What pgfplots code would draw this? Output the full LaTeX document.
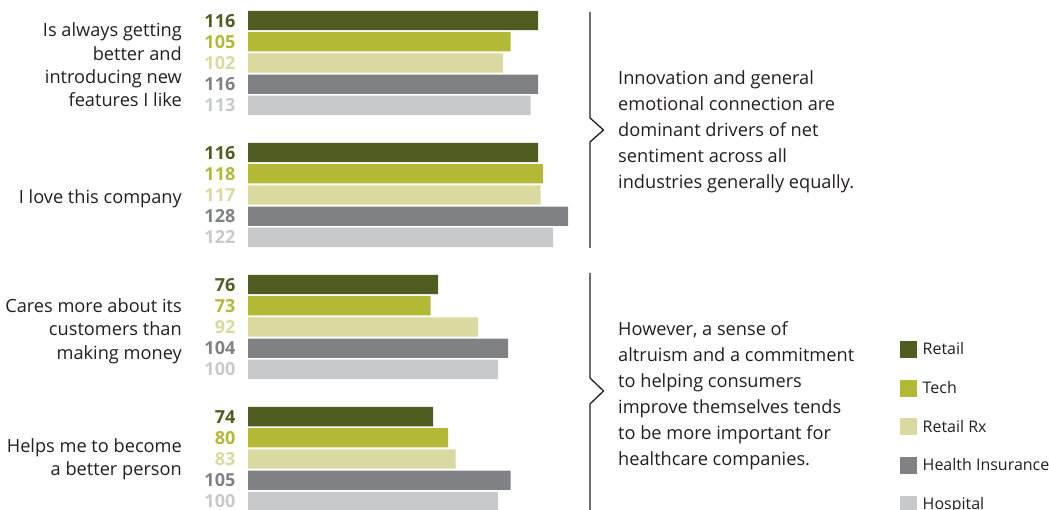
\documentclass[border=0pt]{standalone}
\usepackage{pgfplots}
\pgfplotsset{compat=1.18}
\usepackage{pgfplotstable}
\usepackage{fontspec}
\setmainfont{Open Sans}

\definecolor{retail}{HTML}{4F5D21}
\definecolor{tech}{HTML}{B3B835}
\definecolor{retailrx}{HTML}{D9D9A0}
\definecolor{healthins}{HTML}{808184}
\definecolor{hospital}{HTML}{C8C9CB}
\definecolor{txt}{HTML}{231F20}

% y = bar centre (px from top), v = index value
\pgfplotstableread{
y v
20.6 116
152.6 116
284.6 76
416.6 74
}\retail
\pgfplotstableread{
y v
41.8 105
173.8 118
305.8 73
437.8 80
}\tech
\pgfplotstableread{
y v
63.0 102
195.0 117
327.0 92
459.0 83
}\retailrx
\pgfplotstableread{
y v
84.2 116
216.2 128
348.2 104
480.2 105
}\healthins
\pgfplotstableread{
y v
105.4 113
237.4 122
369.4 100
501.4 100
}\hospital

\pgfplotsset{
  bars/.style={xbar, bar width=19.3, bar shift=0pt, draw=none, fill=#1},
  vals/.style={forget plot, draw=none, mark=none, nodes near coords,
    point meta=explicit,
    nodes near coords={\pgfmathprintnumber[assume math mode=true]{\pgfplotspointmeta}},
    every node near coord/.style={anchor=east, inner sep=0pt, xshift=-12.5pt,
      text=#1, font=\fontsize{18}{20}\selectfont\bfseries}},
}

\begin{document}
\begin{tikzpicture}
\begin{axis}[
  scale only axis, width=1049pt, height=510pt,
  xmin=-99.2, xmax=320.4, ymin=0, ymax=510, y dir=reverse,
  hide axis, clip=false,
  legend style={draw=none, fill=none, at={(axis cs:259.4,338.5)}, anchor=north west,
    font=\fontsize{16}{18}\selectfont, text=txt, row sep=21pt,
    /tikz/every even column/.append style={column sep=0pt}},
  legend cell align=left,
  legend image code/.code={\fill[#1] (0pt,-8.5pt) rectangle (17pt,8.5pt);
    \path (0pt,0pt) -- (21pt,0pt);},
]
\addplot[bars=retail] table[x=v, y=y] {\retail};
\addplot[bars=tech] table[x=v, y=y] {\tech};
\addplot[bars=retailrx] table[x=v, y=y] {\retailrx};
\addplot[bars=healthins] table[x=v, y=y] {\healthins};
\addplot[bars=hospital] table[x=v, y=y] {\hospital};
\legend{Retail, Tech, Retail Rx, Health Insurance, Hospital}

\addplot[vals=retail] table[x expr=0, y=y, meta=v] {\retail};
\addplot[vals=tech] table[x expr=0, y=y, meta=v] {\tech};
\addplot[vals=retailrx] table[x expr=0, y=y, meta=v] {\retailrx};
\addplot[vals=healthins] table[x expr=0, y=y, meta=v] {\healthins};
\addplot[vals=hospital] table[x expr=0, y=y, meta=v] {\hospital};

% category labels
\begin{scope}[every node/.style={anchor=east, align=right, inner sep=0pt, text=txt,
    font=\fontsize{18.2}{23.3}\selectfont}]
\node at (axis cs:-26.4,65) {Is always getting\\better and\\introducing new\\features I like};
\node at (axis cs:-26.4,199) {I love this company};
\node at (axis cs:-26.4,331) {Cares more about its\\customers than\\making money};
\node at (axis cs:-26.4,459) {Helps me to become\\a better person};
\end{scope}

% brackets
\draw[txt, line width=1.3pt] (axis cs:136.8,12) -- (axis cs:136.8,118)
  -- (axis cs:142.2,130) -- (axis cs:136.8,142) -- (axis cs:136.8,248);
\draw[txt, line width=1.3pt] (axis cs:136.8,273) -- (axis cs:136.8,378)
  -- (axis cs:142.2,391) -- (axis cs:136.8,404) -- (axis cs:136.8,515);

% comments
\begin{scope}[every node/.style={anchor=west, align=left, inner sep=0pt, text=txt,
    font=\fontsize{18.2}{26}\selectfont}]
\node at (axis cs:148,132) {Innovation and general\\emotional connection are\\dominant drivers of net\\sentiment across all\\industries generally equally.};
\node at (axis cs:148,396) {However, a sense of\\altruism and a commitment\\to helping consumers\\improve themselves tends\\to be more important for\\healthcare companies.};
\end{scope}
\end{axis}
\pgfresetboundingbox
\path (current axis.south west) rectangle (current axis.north east);
\end{tikzpicture}
\end{document}
